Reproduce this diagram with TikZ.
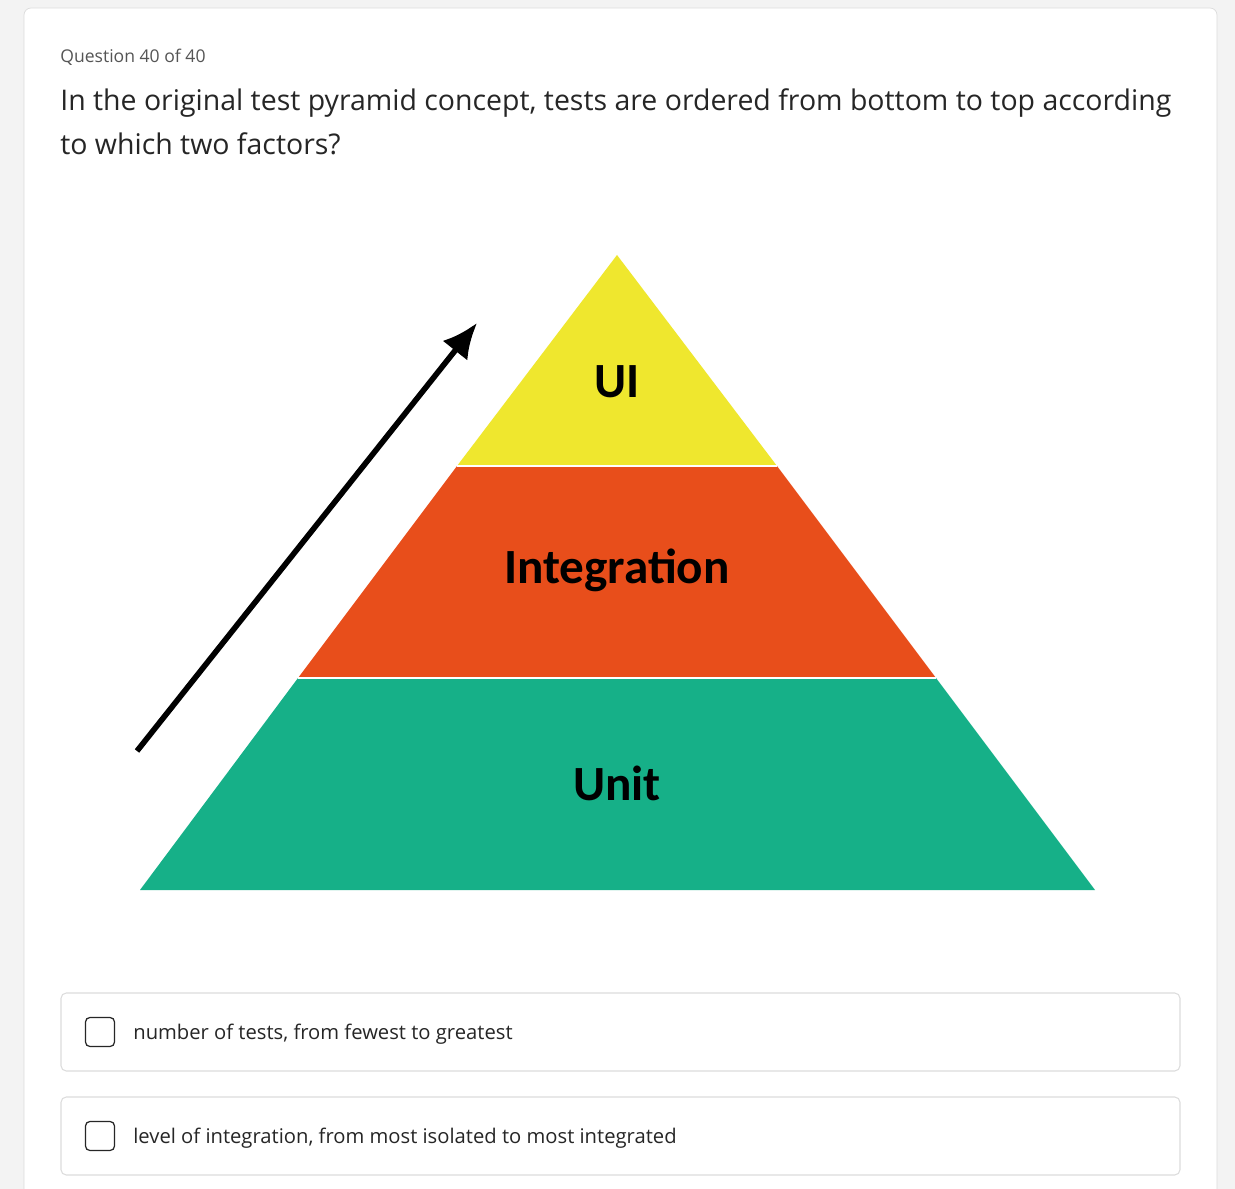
\documentclass[tikz,border=0pt]{standalone}
\usepackage{fontspec}
\setmainfont{Open Sans}
\newfontfamily\labelfont{Carlito}
\usetikzlibrary{arrows.meta}
\definecolor{pageback}{HTML}{F3F3F3}
\definecolor{cardline}{HTML}{DCDCDC}
\definecolor{qgray}{HTML}{555555}
\definecolor{qtext}{HTML}{262626}
\definecolor{uiyellow}{HTML}{EFE72E}
\definecolor{intorange}{HTML}{E84E1B}
\definecolor{unitgreen}{HTML}{16B088}
\tikzset{
  layerlabel/.style={font=\labelfont\bfseries\fontsize{28}{30}\selectfont, text=black},
  answerbox/.style={draw=cardline, fill=white, rounded corners=3pt, line width=0.6pt},
  checkbox/.style={draw=qtext, rounded corners=2.5pt, line width=0.7pt, minimum size=16.5pt, inner sep=0pt},
  answertext/.style={font=\fontsize{11.5}{13}\selectfont, text=qtext, anchor=west, inner sep=0pt}
}
\begin{document}
\begin{tikzpicture}[x=0.02cm, y=-0.02cm]
    \useasboundingbox (0,0) rectangle (1235,1189);
    \fill [pageback] (0,0) rectangle (1235,1189);
    \draw [cardline, fill=white, rounded corners=4pt] (24,1200) -- (24,8) -- (1217,8) -- (1217,1200);
    % question
    \node (qnum) [anchor=west, inner sep=0pt, text=qgray, font=\fontsize{10}{12}\selectfont] at (60,57) {Question 40 of 40};
    \node (qtext) [anchor=north west, inner sep=0pt, text=qtext, align=left, font=\fontsize{16.2}{25.5}\selectfont] at (60,88) {In the original test pyramid concept, tests are ordered from bottom to top according\\to which two factors?};
    % pyramid
    \coordinate (apex) at (617,255);
    \coordinate (tl) at (457,466);
    \coordinate (tr) at (777,466);
    \coordinate (ml) at (298,678);
    \coordinate (mr) at (936,678);
    \coordinate (bl) at (140,890);
    \coordinate (br) at (1095,890);
    \fill [uiyellow] (apex) -- (tr) -- (tl) -- cycle;
    \fill [intorange] (tl) -- (tr) -- (mr) -- (ml) -- cycle;
    \fill [unitgreen] (ml) -- (mr) -- (br) -- (bl) -- cycle;
    \draw [white, line width=0.8pt] (tl) -- (tr) (ml) -- (mr);
    \node (ui) [layerlabel] at (617,382) {UI};
    \node (integ) [layerlabel] at (617,570) {Integration};
    \node (unit) [layerlabel] at (617,783) {Unit};
    % arrow
    \coordinate (arrstart) at (137,751);
    \coordinate (arrend) at (477,323);
    \draw [line width=3.2pt, -{Latex[length=20pt, width=18pt]}] (arrstart) -- (arrend);
    % answers
    \draw [answerbox] (61,993) rectangle (1180,1071);
    \node (cb1) [checkbox] at (100,1032) {};
    \node (a1) [answertext] at (133,1034) {number of tests, from fewest to greatest};
    \draw [answerbox] (61,1097) rectangle (1180,1175);
    \node (cb2) [checkbox] at (100,1136) {};
    \node (a2) [answertext] at (133,1138) {level of integration, from most isolated to most integrated};
\end{tikzpicture}
\end{document}
